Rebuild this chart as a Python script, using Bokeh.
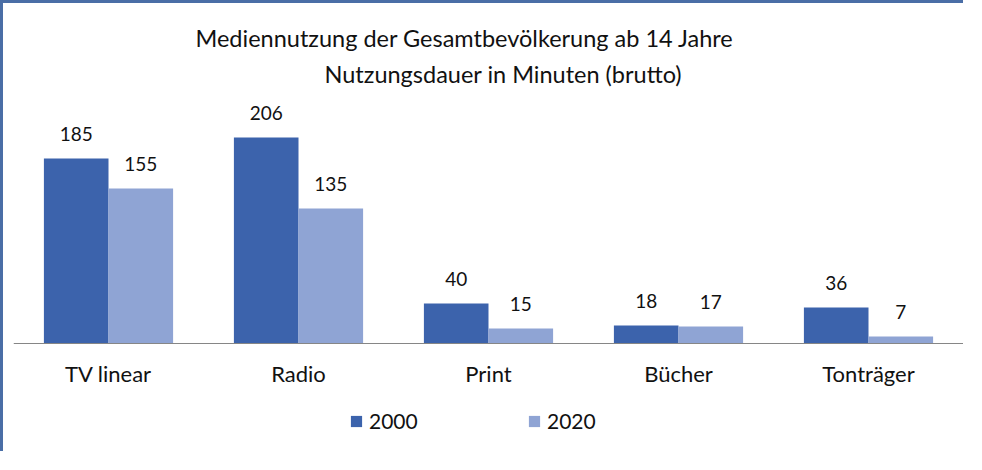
from bokeh.plotting import figure
from bokeh.models import (ColumnDataSource, FactorRange, Range1d, Legend, LegendItem,
                          LabelSet, Title)
from bokeh.core.properties import value
from bokeh.transform import dodge
from bokeh.embed import file_html
from bokeh.resources import INLINE

categories = ["TV linear", "Radio", "Print", "Bücher", "Tonträger"]
series_names = ["2000", "2020"]
values_2000 = [185, 206, 40, 18, 36]
values_2020 = [155, 135, 15, 17, 7]
title_line1 = "Mediennutzung der Gesamtbevölkerung ab 14 Jahre"
title_line2 = "Nutzungsdauer in Minuten (brutto)"

C2000 = "#3C63AC"
C2020 = "#8FA4D4"
FONT = "Lato"

src = ColumnDataSource(dict(
    cat=categories,
    v2000=values_2000,
    v2020=values_2020,
    l2000=[str(v) for v in values_2000],
    l2020=[str(v) for v in values_2020],
))

p = figure(x_range=FactorRange(*categories), y_range=Range1d(-111, 255),
           width=963, height=451, output_backend="svg", toolbar_location=None,
           title=None, min_border_left=10, min_border_right=3,
           min_border_top=85, min_border_bottom=0)

p.styles = {"border-left": "3px solid #4A6EA6", "border-top": "3px solid #4A6EA6"}

x1 = dodge("cat", -0.17, range=p.x_range)
x2 = dodge("cat", 0.17, range=p.x_range)
r1 = p.vbar(x=x1, top="v2000", width=0.34, source=src, fill_color=C2000, line_color=None)
r2 = p.vbar(x=x2, top="v2020", width=0.34, source=src, fill_color=C2020, line_color=None)

for xx, yy, tt in [(x1, "v2000", "l2000"), (x2, "v2020", "l2020")]:
    p.add_layout(LabelSet(x=xx, y=yy, text=tt, source=src, text_align="center",
                          text_baseline="alphabetic", y_offset=18,
                          text_font=value(FONT), text_font_size="19px",
                          text_color="#111111"))

p.add_layout(Title(text=title_line2, align="left", offset=311, standoff=2, text_font=FONT,
                   text_font_size="23.5px", text_font_style="normal", text_color="#111111"), "above")
p.add_layout(Title(text=title_line1, align="left", offset=182, text_font=FONT,
                   text_font_size="23.5px", text_font_style="normal", text_color="#111111"), "above")

p.yaxis.visible = False
p.xgrid.grid_line_color = None
p.ygrid.grid_line_color = None
p.outline_line_color = None
p.xaxis.fixed_location = 0
p.xaxis.axis_line_color = "#868686"
p.xaxis.axis_line_width = 1
p.xaxis.major_tick_line_color = None
p.xaxis.minor_tick_line_color = None
p.xaxis.major_tick_out = 0
p.xaxis.major_tick_in = 0
p.xaxis.major_label_standoff = 16
p.xaxis.major_label_text_font = FONT
p.xaxis.major_label_text_font_size = "22px"
p.xaxis.major_label_text_color = "#111111"

legend = Legend(items=[LegendItem(label=series_names[0], renderers=[r1]),
                       LegendItem(label=series_names[1], renderers=[r2])],
                orientation="horizontal", location=(336, 21), border_line_color=None,
                background_fill_alpha=0, padding=0, margin=0, glyph_width=14,
                glyph_height=14, label_standoff=6, label_width=80, spacing=78,
                label_text_font=FONT, label_text_font_size="21px",
                label_text_color="#111111")
p.add_layout(legend)

open("out.html", "w").write(file_html(p, INLINE))
